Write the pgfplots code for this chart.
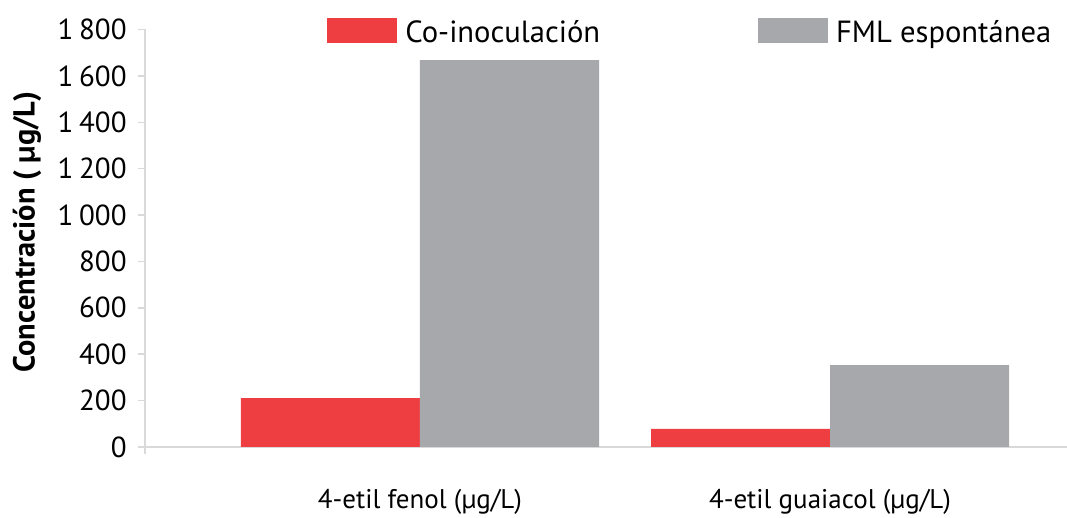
\documentclass[border=0pt]{standalone}
\usepackage{fontspec}
\setmainfont{PT Sans}
\usepackage{pgfplots}
\pgfplotsset{compat=1.18}
\definecolor{cored}{HTML}{EE3E42}
\definecolor{fmlgray}{HTML}{A7A8AB}
\definecolor{axgray}{HTML}{D9D9D9}
\begin{document}
\begin{tikzpicture}
\path[use as bounding box] (0,0) rectangle (533.5pt,259pt);
\begin{axis}[
  at={(72.5pt,35.5pt)}, anchor=south west,
  scale only axis,
  width=461pt, height=208.75pt,
  xmin=-0.6707, xmax=1.578,
  ymin=0, ymax=1800,
  ytick={0,200,...,1800},
  xtick={0,1},
  xticklabels={4-etil fenol (µg/L), 4-etil guaiacol (µg/L)},
  axis x line*=bottom, axis y line*=left,
  axis line style={-, draw=axgray, line width=0.75pt},
  y axis line style={shorten <=-3.5pt},
  every tick/.style={draw=axgray, line width=0.75pt},
  x tick style={draw=none},
  major tick length=3.5pt,
  tick align=outside,
  /pgf/number format/assume math mode=true,
  /pgf/number format/1000 sep={\hspace{0.2em}},
  yticklabel style={font=\fontsize{14.5}{16}\selectfont, anchor=east, inner sep=0pt, xshift=-5.5pt},
  xticklabel style={font=\fontsize{13.5}{16}\selectfont, anchor=base, inner sep=0pt, yshift=-27.5pt},
  ylabel={Concentración ( µg/L)},
  ylabel style={font=\fontsize{15.2}{17}\selectfont\bfseries, at={(axis description cs:-0.128,0.515)}, anchor=center, rotate=0},
  ybar, bar width=0.4366,
  legend columns=2,
  legend style={draw=none, fill=none, at={(axis description cs:0.1974,0.995)}, anchor=west,
    inner sep=0pt, font=\fontsize{15.3}{17}\selectfont,
    nodes={inner sep=0pt, anchor=base west},
    /tikz/every odd column/.append style={column sep=4pt},
    /tikz/every even column/.append style={column sep=79pt}},
  legend image code/.code={\fill[#1] (0pt,-0.5pt) rectangle (35pt,12pt);},
]
\addplot[fill=cored, draw=none, bar shift=-0.2183] coordinates {(0,211) (1,78)};
\addplot[fill=fmlgray, draw=none, bar shift=0.2183] coordinates {(0,1668) (1,353)};
\legend{Co-inoculación, FML espontánea}
\end{axis}
\end{tikzpicture}
\end{document}
